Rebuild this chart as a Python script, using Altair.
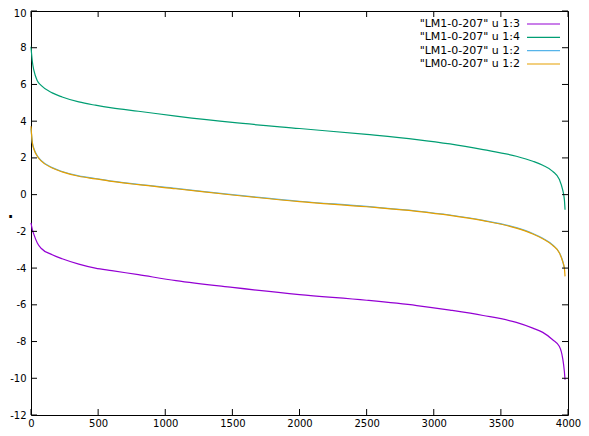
import altair as alt
import pandas as pd

# ---- data ----
xs = [0, 10, 22, 47, 75, 158, 232, 356, 479, 602, 800, 1080, 1500, 2000, 2500,
      2874, 3121, 3368, 3615, 3738, 3812, 3886, 3936, 3960, 3973, 3978]
lm1_u13 = [-1.54, -1.90, -2.18, -2.63, -2.92, -3.27, -3.49, -3.78, -4.00, -4.14, -4.36, -4.68, -5.05, -5.44, -5.75,
           -6.04, -6.29, -6.58, -6.96, -7.27, -7.50, -7.90, -8.27, -8.90, -9.63, -10.08]
lm1_u14 = [8.05, 7.25, 6.75, 6.20, 5.95, 5.54, 5.32, 5.05, 4.87, 4.72, 4.54, 4.28, 3.93, 3.60, 3.28,
           3.00, 2.76, 2.45, 2.09, 1.82, 1.60, 1.27, 0.82, 0.27, -0.27, -0.82]
lm1_u12 = [3.60, 2.85, 2.50, 2.12, 1.87, 1.47, 1.26, 1.02, 0.88, 0.74, 0.56, 0.34, 0.00, -0.36, -0.64,
           -0.89, -1.11, -1.40, -1.80, -2.12, -2.38, -2.74, -3.16, -3.60, -3.98, -4.02]
lm0_u12 = [3.72, 2.82, 2.47, 2.09, 1.84, 1.45, 1.24, 1.00, 0.86, 0.72, 0.54, 0.32, -0.02, -0.38, -0.66,
           -0.91, -1.13, -1.42, -1.82, -2.14, -2.40, -2.76, -3.18, -3.63, -4.00, -4.45]

series_names = ['"LM1-0-207" u 1:3', '"LM1-0-207" u 1:4', '"LM1-0-207" u 1:2', '"LM0-0-207" u 1:2']
series_values = [lm1_u13, lm1_u14, lm1_u12, lm0_u12]
colors = ["#9400d3", "#009e73", "#56b4e9", "#e69f00"]

x_ticks = [0, 500, 1000, 1500, 2000, 2500, 3000, 3500, 4000]
y_ticks = [-12, -10, -8, -6, -4, -2, 0, 2, 4, 6, 8, 10]

W, H = 537, 404
FONT = "DejaVu Sans"

rows = []
for name, vals in zip(series_names, series_values):
    for xv, yv in zip(xs, vals):
        rows.append({"series": name, "x": xv, "y": yv})
df = pd.DataFrame(rows)

xscale = alt.Scale(domain=[0, 4000], nice=False, zero=False)
yscale = alt.Scale(domain=[-12, 10], nice=False, zero=False)
cscale = alt.Scale(domain=series_names, range=colors)

x_axis = alt.Axis(values=x_ticks, title=None, grid=False, ticks=False, domain=False,
                  labelPadding=3, labelFont=FONT, labelFontSize=10, labelColor="black",
                  labelFlush=False, labelExpr="'' + datum.value")
y_axis = alt.Axis(values=y_ticks, title=".", grid=False, ticks=False, domain=False,
                  labelPadding=5, labelFont=FONT, labelFontSize=10, labelColor="black",
                  labelFlush=False, labelExpr="'' + datum.value",
                  labelOffset=alt.ExprRef(expr="datum.value == 10 ? 2 : 0"),
                  titleAngle=0, titleX=-21, titleY=206, titleAlign="center",
                  titleBaseline="alphabetic", titleFontSize=15, titleFont=FONT,
                  titleFontWeight="bold", titleColor="black")

lines = alt.Chart(df).mark_line(strokeWidth=1.2, interpolate="monotone").encode(
    x=alt.X("x:Q", scale=xscale, axis=x_axis),
    y=alt.Y("y:Q", scale=yscale, axis=y_axis),
    color=alt.Color("series:N", sort=series_names, scale=cscale, legend=None),
)

xt = pd.DataFrame({"x": x_ticks})
yt = pd.DataFrame({"y": y_ticks})

tick_style = dict(color="black", strokeWidth=1)
bottom_ticks = alt.Chart(xt).mark_rule(**tick_style).encode(
    x=alt.X("x:Q", scale=xscale, axis=x_axis), y=alt.value(H), y2=alt.value(H - 6))
top_ticks = alt.Chart(xt).mark_rule(**tick_style).encode(
    x=alt.X("x:Q", scale=xscale, axis=x_axis), y=alt.value(0), y2=alt.value(6))
left_ticks = alt.Chart(yt).mark_rule(**tick_style).encode(
    y=alt.Y("y:Q", scale=yscale, axis=y_axis), x=alt.value(0), x2=alt.value(6))
right_ticks = alt.Chart(yt).mark_rule(**tick_style).encode(
    y=alt.Y("y:Q", scale=yscale, axis=y_axis), x=alt.value(W - 6), x2=alt.value(W))

# key (gnuplot style: label on the left, line sample on the right)
legend_layers = []
row_y = [13, 26.3, 39.7, 53]
for i, name in enumerate(series_names):
    ld = pd.DataFrame({"series": [name]})
    legend_layers.append(
        alt.Chart(ld).mark_text(align="right", baseline="middle", font=FONT, fontSize=11,
                                color="black").encode(
            text="series:N", x=alt.value(489), y=alt.value(row_y[i])))
    legend_layers.append(
        alt.Chart(ld).mark_rule(strokeWidth=1.2).encode(
            color=alt.Color("series:N", scale=cscale, legend=None),
            x=alt.value(496), x2=alt.value(529), y=alt.value(row_y[i])))

chart = alt.layer(lines, bottom_ticks, top_ticks, left_ticks, right_ticks, *legend_layers).properties(
    width=W, height=H,
    autosize=alt.AutoSizeParams(type="none"),
    padding={"left": 23, "top": 3, "right": 13, "bottom": 13},
    background="white",
).configure_view(stroke="black", strokeWidth=1)

chart.save("out.html", embed_options={"renderer": "svg", "actions": False})
